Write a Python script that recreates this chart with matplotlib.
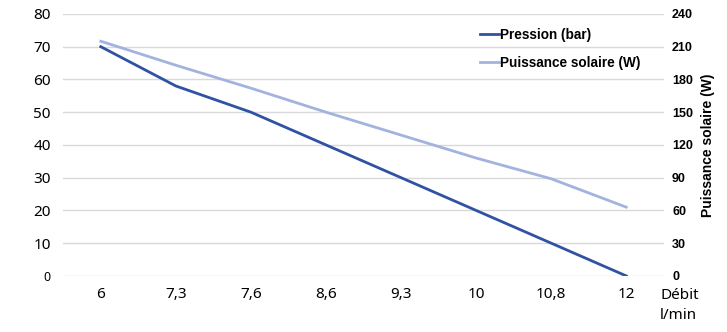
import matplotlib.pyplot as plt

# débit (l/min), pression (bar) et puissance solaire (W)
debit = ["6", "7,3", "7,6", "8,6", "9,3", "10", "10,8", "12"]
pression = [70, 58, 50, 40, 30, 20, 10, 0]
puissance = [215, 193, 172, 150, 129, 108, 89, 63]

left_ticks = [0, 10, 20, 30, 40, 50, 60, 70, 80]
right_ticks = [0, 30, 60, 90, 120, 150, 180, 210, 240]

dark = "#2f52a3"
light = "#a3b3e0"
grid = "#d9d9d9"

fig = plt.figure(figsize=(7.27, 3.32), dpi=100)
fig.patch.set_facecolor("white")
ax = fig.add_axes([0.087, 0.169, 0.826, 0.789])
ax2 = ax.twinx()

x = list(range(len(debit)))
l1, = ax.plot(x, pression, color=dark, lw=2.0, label="Pression (bar)", zorder=3)
l2, = ax2.plot(x, puissance, color=light, lw=2.0, label="Puissance solaire (W)", zorder=3)

ax.set_xlim(-0.5, len(debit) - 0.5)
ax.set_ylim(0, 80)
ax2.set_ylim(0, 240)
ax.set_yticks(left_ticks)
ax2.set_yticks(right_ticks)
ax.set_xticks(x)
ax.set_xticklabels(debit, fontsize=11, family="Noto Sans")

for a in (ax, ax2):
    for s in a.spines.values():
        s.set_visible(False)
ax.yaxis.grid(True, color=grid, lw=1.0)
ax.set_axisbelow(True)
ax.tick_params(axis="both", length=0)
ax.tick_params(axis="y", pad=9)
ax.tick_params(axis="x", pad=8)
ax2.tick_params(axis="y", length=0, pad=6)

ax.set_yticklabels([str(v) for v in left_ticks], fontsize=11, family="Noto Sans")
ax.get_yticklabels()[0].set_fontweight("bold")
ax.get_yticklabels()[0].set_fontsize(9)
ax2.set_yticklabels([str(v) for v in right_ticks], fontsize=9,
                    family="Liberation Sans", fontweight="bold")

ax2.set_ylabel("Puissance solaire (W)", fontsize=10, family="Liberation Sans",
               fontweight="bold", labelpad=6)

fig.text(0.908, 0.081, "Débit\nl/min", ha="left", va="center",
         fontsize=11, family="Noto Sans", linespacing=1.45)

leg = ax.legend(handles=[l1, l2], loc="upper left", bbox_to_anchor=(0.673, 0.993),
                frameon=False, handlelength=1.4, handletextpad=0.1,
                labelspacing=1.0, prop={"family": "Liberation Sans",
                                        "weight": "bold", "size": 9.8})

fig.savefig("out.png", dpi=100)
